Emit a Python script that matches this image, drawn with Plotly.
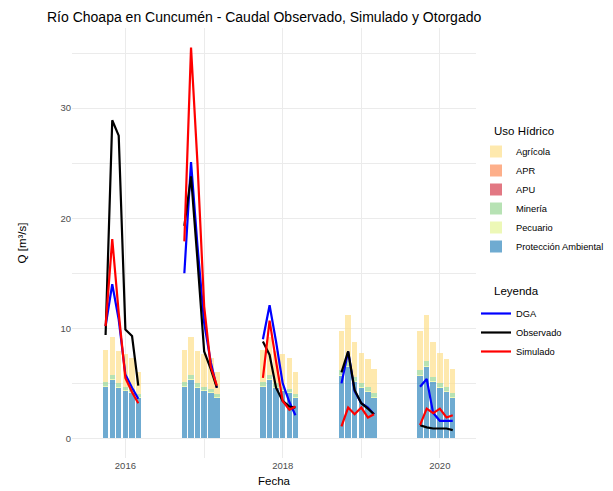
import plotly.graph_objects as go

# Monthly dates (Oct-Mar) for five irrigation seasons
fechas = [
    "2015-10-01", "2015-11-01", "2015-12-01", "2016-01-01", "2016-02-01", "2016-03-01",
    "2016-10-01", "2016-11-01", "2016-12-01", "2017-01-01", "2017-02-01", "2017-03-01",
    "2017-10-01", "2017-11-01", "2017-12-01", "2018-01-01", "2018-02-01", "2018-03-01",
    "2018-10-01", "2018-11-01", "2018-12-01", "2019-01-01", "2019-02-01", "2019-03-01",
    "2019-10-01", "2019-11-01", "2019-12-01", "2020-01-01", "2020-02-01", "2020-03-01",
]
temporada = [1] * 6 + [2] * 6 + [3] * 6 + [4] * 6 + [5] * 6

# Flows (m3/s)
dga = [10.2, 14.0, 10.8, 5.8, 4.6, 3.6,
       15.0, 25.1, 17.5, 10.5, 6.9, 4.6,
       9.0, 12.1, 8.8, 5.0, 3.3, 2.1,
       5.0, 7.9, 4.3, 3.2, 2.8, 2.2,
       4.7, 5.4, 2.3, 1.6, 1.6, 1.6]
observado = [9.4, 28.9, 27.5, 9.9, 9.3, 4.8,
             19.3, 23.8, 16.2, 7.9, 6.3, 4.6,
             8.8, 7.6, 4.6, 3.4, 2.9, 2.8,
             6.0, 7.9, 4.4, 3.2, 2.7, 2.2,
             1.2, 1.0, 0.9, 0.9, 0.9, 0.75]
simulado = [10.2, 18.1, 11.4, 5.5, 4.2, 3.2,
            17.9, 35.5, 25.0, 12.0, 6.5, 4.8,
            5.5, 10.7, 7.0, 3.4, 2.6, 2.9,
            1.1, 2.8, 2.2, 2.8, 1.9, 2.2,
            1.2, 2.7, 2.3, 2.7, 1.9, 2.1]

# Granted rights by water use (m3/s)
proteccion = [4.7, 5.3, 4.6, 4.3, 4.1, 3.7] * 3 + [5.7, 6.5, 5.1, 4.6, 4.2, 3.7] * 2
pecuario = [0.1] * 30
mineria = [0.3, 0.35, 0.3, 0.3, 0.3, 0.25] * 3 + [0.4, 0.45, 0.4, 0.35, 0.35, 0.3] * 2
apu = [0.0] * 30
apr = [0.0] * 30
agricola = [2.95, 3.45, 2.95, 3.0, 2.8, 1.95] * 3 + [3.6, 4.15, 3.2, 2.75, 2.55, 2.2] * 2

usos = [
    ("Protección Ambiental", proteccion, "rgba(50,136,189,0.7)"),
    ("Pecuario", pecuario, "rgba(230,245,152,0.7)"),
    ("Minería", mineria, "rgba(153,213,148,0.7)"),
    ("APU", apu, "rgba(213,62,79,0.7)"),
    ("APR", apr, "rgba(252,141,89,0.7)"),
    ("Agrícola", agricola, "rgba(254,224,139,0.7)"),
]
orden_leyenda = {"Agrícola": 1, "APR": 2, "APU": 3, "Minería": 4, "Pecuario": 5,
                 "Protección Ambiental": 6}

fig = go.Figure()

ancho_barra = 25 * 24 * 3600 * 1000  # bar width in ms

for nombre, valores, color in usos:
    fig.add_trace(go.Bar(
        x=fechas, y=valores, name=nombre, width=ancho_barra,
        marker=dict(color=color, line=dict(width=0)),
        legend="legend", legendrank=orden_leyenda[nombre],
    ))


def con_cortes(fx, vals):
    """Insert gaps between seasons so each season is its own line."""
    xs, ys = [], []
    for i, (f, v) in enumerate(zip(fx, vals)):
        if i > 0 and temporada[i] != temporada[i - 1]:
            xs.append(None)
            ys.append(None)
        xs.append(f)
        ys.append(v)
    return xs, ys


series = [("DGA", dga, "#0000FF"), ("Observado", observado, "#000000"),
          ("Simulado", simulado, "#FF0000")]
for k, (nombre, vals, color) in enumerate(series):
    xs, ys = con_cortes(fechas, vals)
    fig.add_trace(go.Scatter(
        x=xs, y=ys, mode="lines", name=nombre, connectgaps=False,
        line=dict(color=color, width=2.2),
        legend="legend2", legendrank=k + 1,
    ))

fuente = "Liberation Sans, Arial, sans-serif"
fig.update_layout(
    width=613, height=491,
    margin=dict(l=72, r=137, t=28, b=33, autoexpand=False),
    barmode="stack", bargap=0,
    plot_bgcolor="white", paper_bgcolor="white",
    font=dict(family=fuente, color="#000000"),
    title=dict(text="Río Choapa en Cuncumén - Caudal Observado, Simulado y Otorgado",
               x=47 / 613, xanchor="left", y=1 - 17 / 491, yanchor="middle",
               font=dict(size=14, color="#000000")),
    xaxis=dict(
        range=["2015-04-28", "2020-06-17"],
        tickvals=["2016-01-01", "2018-01-01", "2020-01-01"],
        ticktext=["2016", "2018", "2020"],
        showgrid=True, gridcolor="#EBEBEB", gridwidth=1.1,
        minor=dict(tickvals=["2017-01-01", "2019-01-01"], showgrid=True,
                   gridcolor="#EBEBEB", gridwidth=0.55),
        zeroline=False, showline=False, ticks="", automargin=False,
        tickfont=dict(size=9.5, color="#4D4D4D"),
        title=dict(text="Fecha", font=dict(size=11.5), standoff=7),
    ),
    yaxis=dict(
        range=[-1.78, 37.28],
        tickvals=[0, 10, 20, 30],
        showgrid=True, gridcolor="#EBEBEB", gridwidth=1.1,
        minor=dict(tickvals=[5, 15, 25, 35], showgrid=True,
                   gridcolor="#EBEBEB", gridwidth=0.55),
        zeroline=False, showline=False, ticks="", automargin=False,
        tickfont=dict(size=9.5, color="#4D4D4D"),
        title=dict(text="Q [m³/s]", font=dict(size=11.5), standoff=31),
    ),
    legend=dict(
        xref="container", yref="container",
        x=476 / 613, xanchor="left", y=1 - 137 / 491, yanchor="top",
        font=dict(size=9.3), traceorder="normal", tracegroupgap=0,
        bgcolor="rgba(0,0,0,0)",
    ),
    legend2=dict(
        xref="container", yref="container",
        x=476 / 613, xanchor="left", y=1 - 299 / 491, yanchor="top",
        font=dict(size=9.3), traceorder="normal",
        bgcolor="rgba(0,0,0,0)",
    ),
    annotations=[
        dict(text="Uso Hídrico", xref="paper", yref="paper",
             x=(492 - 72) / (613 - 72 - 137), y=(491 - 33 - 131) / (491 - 28 - 33),
             xanchor="left", yanchor="middle", showarrow=False,
             font=dict(size=11.5, color="#000000")),
        dict(text="Leyenda", xref="paper", yref="paper",
             x=(492 - 72) / (613 - 72 - 137), y=(491 - 33 - 291) / (491 - 28 - 33),
             xanchor="left", yanchor="middle", showarrow=False,
             font=dict(size=11.5, color="#000000")),
    ],
)

fig.write_html("out.html")
